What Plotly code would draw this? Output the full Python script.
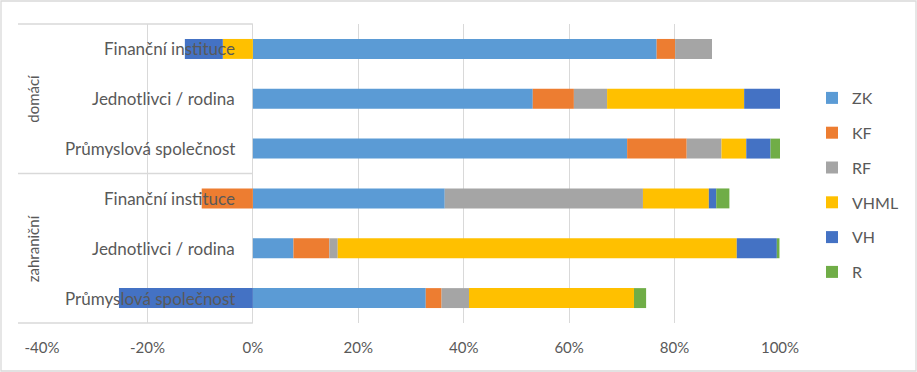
import plotly.graph_objects as go

groups = ["domácí", "domácí", "domácí", "zahraniční", "zahraniční", "zahraniční"]
categories = ["Finanční instituce", "Jednotlivci / rodina", "Průmyslová společnost",
              "Finanční instituce", "Jednotlivci / rodina", "Průmyslová společnost"]

series_names = ["ZK", "KF", "RF", "VHML", "VH", "R"]
ZK = [0.766, 0.531, 0.710, 0.364, 0.077, 0.328]
KF = [0.035, 0.078, 0.113, -0.097, 0.068, 0.030]
RF = [0.070, 0.063, 0.066, 0.376, 0.016, 0.052]
VHML = [-0.057, 0.260, 0.047, 0.125, 0.757, 0.313]
VH = [-0.072, 0.068, 0.046, 0.014, 0.076, -0.254]
R = [0.0, 0.0, 0.018, 0.025, 0.005, 0.023]
series_values = [ZK, KF, RF, VHML, VH, R]
colors = ["#5B9BD5", "#ED7D31", "#A5A5A5", "#FFC000", "#4472C4", "#70AD47"]

tick_vals = [-0.4, -0.2, 0.0, 0.2, 0.4, 0.6, 0.8, 1.0]
tick_text = ["-40%", "-20%", "0%", "20%", "40%", "60%", "80%", "100%"]

FONT = "Lato"
TXT = "#595959"
GRID = "#D9D9D9"

keys = [f"{g}|{c}" for g, c in zip(groups, categories)]

fig = go.Figure()
for name, vals, col in zip(series_names, series_values, colors):
    fig.add_trace(go.Bar(
        y=keys, x=vals, name=name, orientation="h",
        marker=dict(color=col, line=dict(width=0)),
        legendgroup=name,
    ))

# category labels drawn at the zero axis (Excel style, over bars)
for k, c in zip(keys, categories):
    fig.add_annotation(x=0, y=k, xref="x", yref="y", text=c, showarrow=False,
                       xanchor="right", yanchor="middle", xshift=-16,
                       font=dict(family=FONT, size=17, color=TXT))

# group labels
uniq = []
for g in groups:
    if g not in uniq:
        uniq.append(g)
for g in uniq:
    idx = [i for i, gg in enumerate(groups) if gg == g]
    mid = keys[idx[len(idx) // 2]]
    fig.add_annotation(x=(33 - 42) / 738, y=mid, xref="paper", yref="y", text=g,
                       showarrow=False, textangle=-90, xanchor="center", yanchor="middle",
                       font=dict(family=FONT, size=15, color=TXT))

# horizontal category separators
x0p = (18 - 42) / 738
x1p = 0.4 / 1.4
for frac in [1.0, 0.5, 0.0]:
    fig.add_shape(type="line", xref="paper", yref="paper", x0=x0p, x1=x1p,
                  y0=frac, y1=frac, line=dict(color=GRID, width=1.3))

# outer chart border
fig.add_shape(type="rect", xref="paper", yref="paper",
              x0=(1 - 42) / 738, x1=(916 - 42) / 738,
              y0=(323 - 371) / 299, y1=(323 - 1) / 299,
              line=dict(color=GRID, width=1.3), fillcolor="rgba(0,0,0,0)", layer="below")

fig.update_layout(
    width=917, height=372,
    margin=dict(l=42, r=137, t=24, b=49, autoexpand=False),
    paper_bgcolor="white", plot_bgcolor="white",
    barmode="relative", bargap=0.6,
    showlegend=True,
    legend=dict(x=(812 - 42) / 738, y=(323 - 81) / 299, xanchor="left", yanchor="top",
                traceorder="grouped", tracegroupgap=11,
                font=dict(family=FONT, size=16, color=TXT),
                bgcolor="rgba(0,0,0,0)", itemwidth=30),
    xaxis=dict(range=[-0.4, 1.0], tickvals=tick_vals, ticktext=tick_text,
               showgrid=True, gridcolor=GRID, gridwidth=1.3,
               zeroline=True, zerolinecolor=GRID, zerolinewidth=1.3,
               showline=False, ticks="", ticklabelstandoff=14,
               tickfont=dict(family=FONT, size=15, color=TXT), fixedrange=True),
    yaxis=dict(categoryorder="array", categoryarray=keys, autorange="reversed",
               showticklabels=False, showgrid=False, zeroline=False, ticks="",
               showline=False, fixedrange=True),
)

fig.write_html("out.html", config={"displayModeBar": False},
               post_script="document.body.style.margin='0';document.body.style.overflow='hidden';")
